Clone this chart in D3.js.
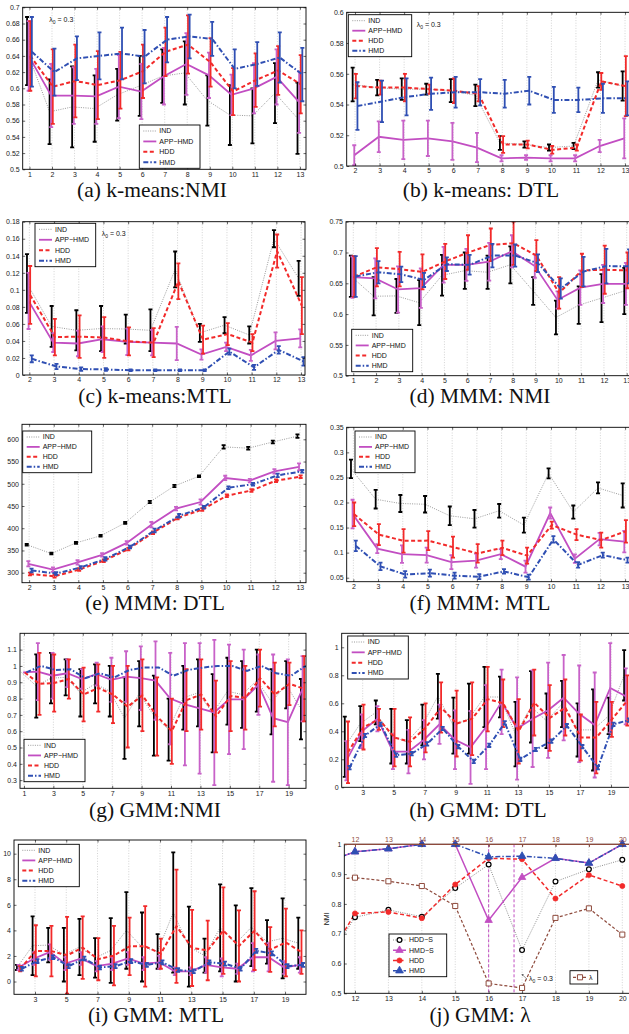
<!DOCTYPE html>
<html lang="en">
<head>
<meta charset="UTF-8">
<title>Clustering comparison</title>
<style>
  body { margin: 0; background: #fff; }
  svg { display: block; }
  .tick text { font-family: "Liberation Sans", Arial, sans-serif; font-size: 7px; fill: #222; }
  .cap { font-family: "Liberation Serif", "Times New Roman", serif; font-size: 21.5px; fill: #111; }
  .leg { font-family: "Liberation Sans", Arial, sans-serif; font-size: 7px; fill: #111; }
</style>
<script src="https://d3js.org/d3.v7.min.js"></script>
</head>
<body>
<div id="chart"></div>
<script>
// x categories
const x1to13 = [1, 2, 3, 4, 5, 6, 7, 8, 9, 10, 11, 12, 13];
const x2to13 = [2, 3, 4, 5, 6, 7, 8, 9, 10, 11, 12, 13];
const x1to20 = [1, 2, 3, 4, 5, 6, 7, 8, 9, 10, 11, 12, 13, 14, 15, 16, 17, 18, 19, 20];
const x2to20 = [2, 3, 4, 5, 6, 7, 8, 9, 10, 11, 12, 13, 14, 15, 16, 17, 18, 19, 20];
const x11to20 = [11, 12, 13, 14, 15, 16, 17, 18, 19, 20];
const oddTicks = [1, 3, 5, 7, 9, 11, 13, 15, 17, 19];
const oddTicks3 = [3, 5, 7, 9, 11, 13, 15, 17, 19];
const lamTicks = [12, 13, 14, 15, 16, 17, 18, 19, 20];

// (a) k-means: NMI
const aIND = [0.646, 0.571, 0.577, 0.575, 0.592, 0.603, 0.615, 0.619, 0.585, 0.567, 0.566, 0.594, 0.563];
const aINDe = [0.042, 0.040, 0.050, 0.041, 0.032, 0.037, 0.033, 0.039, 0.031, 0.037, 0.034, 0.037, 0.044];
const aAPP = [0.640, 0.591, 0.591, 0.590, 0.602, 0.596, 0.615, 0.630, 0.616, 0.592, 0.600, 0.614, 0.583];
const aAPPe = [0.043, 0.039, 0.035, 0.034, 0.039, 0.034, 0.035, 0.038, 0.028, 0.025, 0.031, 0.034, 0.038];
const aHDD = [0.640, 0.602, 0.609, 0.604, 0.610, 0.621, 0.645, 0.654, 0.632, 0.596, 0.610, 0.622, 0.605];
const aHDDe = [0.043, 0.046, 0.045, 0.042, 0.035, 0.033, 0.030, 0.036, 0.030, 0.029, 0.033, 0.030, 0.036];
const aHMD = [0.645, 0.620, 0.637, 0.640, 0.643, 0.639, 0.660, 0.664, 0.661, 0.624, 0.630, 0.638, 0.617];
const aHMDe = [0.043, 0.029, 0.027, 0.029, 0.032, 0.033, 0.028, 0.027, 0.021, 0.024, 0.027, 0.031, 0.033];

// (b) k-means: DTL
const bIND = [0.553, 0.551, 0.550, 0.550, 0.549, 0.546, 0.515, 0.514, 0.512, 0.513, 0.556, 0.552];
const bINDe = [0.011, 0.005, 0.007, 0.0035, 0.0075, 0.007, 0.0045, 0.002, 0.002, 0.002, 0.005, 0.0095];
const bAPP = [0.507, 0.519, 0.517, 0.518, 0.516, 0.512, 0.505, 0.5055, 0.505, 0.505, 0.513, 0.518];
const bAPPe = [0.0065, 0.010, 0.0125, 0.0115, 0.012, 0.0095, 0.002, 0.0015, 0.002, 0.002, 0.004, 0.013];
const bHDD = [0.552, 0.551, 0.551, 0.550, 0.549, 0.547, 0.514, 0.514, 0.5105, 0.512, 0.555, 0.552];
const bHDDe = [0.008, 0.0045, 0.009, 0.003, 0.008, 0.005, 0.0055, 0.0025, 0.0025, 0.002, 0.0055, 0.0195];
const bHMD = [0.539, 0.542, 0.545, 0.547, 0.548, 0.548, 0.547, 0.549, 0.543, 0.543, 0.544, 0.544];
const bHMDe = [0.0155, 0.0135, 0.012, 0.0105, 0.010, 0.0085, 0.009, 0.009, 0.0085, 0.008, 0.0095, 0.011];

// (c) k-means: MTL
const cIND = [0.1075, 0.057, 0.0525, 0.0545, 0.054, 0.0525, 0.124, 0.0495, 0.0585, 0.047, 0.160, 0.1135];
const cINDe = [0.0345, 0.024, 0.0235, 0.0265, 0.017, 0.0245, 0.021, 0.0105, 0.0095, 0.010, 0.010, 0.0205];
const cAPP = [0.087, 0.038, 0.037, 0.042, 0.039, 0.038, 0.037, 0.024, 0.033, 0.023, 0.040, 0.043];
const cAPPe = [0.033, 0.011, 0.015, 0.015, 0.0155, 0.015, 0.0195, 0.006, 0.005, 0.0065, 0.010, 0.0105];
const cHDD = [0.094, 0.0445, 0.045, 0.044, 0.0395, 0.038, 0.110, 0.0415, 0.048, 0.038, 0.1455, 0.0815];
const cHDDe = [0.034, 0.0215, 0.025, 0.024, 0.0165, 0.017, 0.021, 0.0165, 0.013, 0.010, 0.0195, 0.0335];
const cHMD = [0.019, 0.010, 0.007, 0.0065, 0.0055, 0.0055, 0.0055, 0.0055, 0.0275, 0.009, 0.0295, 0.016];
const cHMDe = [0.004, 0.003, 0.002, 0.0015, 0.001, 0.001, 0.001, 0.001, 0.0035, 0.003, 0.0045, 0.005];

// (d) MMM: NMI
const dIND = [0.6615, 0.629, 0.6295, 0.6185, 0.663, 0.6705, 0.668, 0.680, 0.6375, 0.5945, 0.6145, 0.626, 0.6375];
const dINDe = [0.0335, 0.031, 0.0275, 0.0365, 0.033, 0.0295, 0.027, 0.030, 0.0225, 0.0275, 0.0305, 0.039, 0.0375];
const dAPP = [0.660, 0.658, 0.640, 0.642, 0.680, 0.680, 0.685, 0.702, 0.678, 0.623, 0.643, 0.649, 0.649];
const dAPPe = [0.0335, 0.0325, 0.0375, 0.032, 0.029, 0.026, 0.0305, 0.026, 0.019, 0.014, 0.028, 0.031, 0.034];
const dHDD = [0.661, 0.676, 0.673, 0.6685, 0.6855, 0.700, 0.7125, 0.715, 0.695, 0.6345, 0.671, 0.672, 0.671];
const dHDDe = [0.033, 0.031, 0.028, 0.0285, 0.0285, 0.028, 0.0265, 0.035, 0.025, 0.0255, 0.027, 0.039, 0.029];
const dHMD = [0.661, 0.668, 0.6645, 0.6555, 0.681, 0.680, 0.695, 0.695, 0.6825, 0.6415, 0.669, 0.678, 0.6775];
const dHMDe = [0.033, 0.018, 0.0125, 0.0115, 0.011, 0.016, 0.019, 0.018, 0.0145, 0.0165, 0.024, 0.028, 0.0275];

// (e) MMM: DTL
const eIND = [363, 343, 367, 383, 412, 459, 495, 517, 583, 580, 594, 607];
const eINDe = [2, 2, 2, 2, 2, 2.5, 2.5, 2, 4, 3, 3, 4];
const eAPP = [320, 307, 323, 340, 367, 408, 444, 459, 513, 507, 528, 538];
const eAPPe = [6, 5, 5, 4, 4, 6, 4, 6, 5, 4, 5, 8];
const eHDD = [297, 292, 307, 327, 353, 390, 423, 442, 473, 485, 507, 516];
const eHDDe = [3, 3, 3, 3, 3, 3, 3, 3, 3, 3, 3, 3];
const eHMD = [305, 298, 312, 331, 358, 395, 428, 447, 491, 499, 519, 528];
const eHMDe = [4, 3, 3, 4, 3, 4, 4, 3, 3, 3, 4, 3];

// (f) MMM: MTL
const fIND = [0.267, 0.2065, 0.198, 0.1965, 0.1735, 0.1675, 0.1835, 0.155, 0.258, 0.181, 0.229, 0.214];
const fINDe = [0.0185, 0.0185, 0.017, 0.0165, 0.0185, 0.0175, 0.0135, 0.015, 0.010, 0.013, 0.011, 0.024];
const fAPP = [0.177, 0.108, 0.097, 0.095, 0.081, 0.084, 0.097, 0.072, 0.179, 0.088, 0.127, 0.122];
const fAPPe = [0.0285, 0.009, 0.0175, 0.015, 0.014, 0.014, 0.010, 0.012, 0.011, 0.0085, 0.0125, 0.0215];
const fHDD = [0.1765, 0.136, 0.1235, 0.124, 0.111, 0.0985, 0.1095, 0.094, 0.155, 0.136, 0.125, 0.1425];
const fHDDe = [0.0235, 0.021, 0.0235, 0.019, 0.021, 0.0185, 0.0145, 0.016, 0.007, 0.011, 0.015, 0.0225];
const fHMD = [0.1135, 0.0725, 0.0565, 0.059, 0.054, 0.052, 0.0625, 0.051, 0.1265, 0.0755, 0.095, 0.085];
const fHMDe = [0.0105, 0.0075, 0.0065, 0.007, 0.006, 0.005, 0.0045, 0.005, 0.0065, 0.0055, 0.005, 0.005];

// (g) GMM: NMI
const gIND = [0.96, 0.877, 0.925, 0.93, 0.835, 0.89, 0.845, 0.68, 0.83, 0.695, 0.61, 0.805, 0.835, 0.71, 0.845, 0.825, 0.91, 0.78, 0.885, 0.735];
const gINDe = [0, 0.194, 0.155, 0.11, 0.145, 0.12, 0.155, 0.25, 0.2, 0.245, 0.19, 0.195, 0.205, 0.24, 0.205, 0.205, 0.19, 0.2, 0.145, 0.185];
const gAPP = [0.96, 0.965, 0.94, 0.955, 0.92, 0.95, 0.915, 0.935, 0.925, 0.91, 0.80, 0.765, 0.74, 0.715, 0.795, 0.795, 0.885, 0.68, 0.655, 0.86];
const gAPPe = [0, 0.175, 0.14, 0.085, 0.06, 0.07, 0.135, 0.155, 0.195, 0.24, 0.28, 0.375, 0.40, 0.445, 0.335, 0.305, 0.185, 0.39, 0.385, 0.2];
const gHDD = [0.96, 0.89, 0.895, 0.92, 0.825, 0.865, 0.825, 0.75, 0.82, 0.69, 0.60, 0.79, 0.825, 0.69, 0.815, 0.805, 0.925, 0.825, 0.89, 0.86];
const gHDDe = [0, 0.19, 0.175, 0.12, 0.165, 0.145, 0.175, 0.25, 0.22, 0.24, 0.20, 0.19, 0.215, 0.22, 0.215, 0.195, 0.175, 0.195, 0.13, 0.2];
const gHMD = [0.96, 1.0, 0.975, 0.98, 0.925, 0.955, 0.93, 0.975, 0.99, 0.99, 0.94, 0.975, 0.99, 1.0, 1.0, 0.97, 1.0, 0.955, 0.94, 1.0];
const gHMDe = [0, 0, 0, 0, 0, 0, 0, 0, 0, 0, 0, 0, 0, 0, 0, 0, 0, 0, 0, 0];

// (h) GMM: DTL
const hIND = [0.29, 0.455, 0.535, 0.365, 0.325, 0.445, 0.65, 0.44, 0.49, 0.645, 0.645, 0.38, 0.575, 0.475, 0.595, 0.41, 0.41, 0.51, 0.8];
const hINDe = [0.215, 0.125, 0.085, 0.195, 0.155, 0.145, 0.16, 0.2, 0.25, 0.215, 0.145, 0.23, 0.255, 0.195, 0.165, 0.19, 0.29, 0.13, 0.18];
const hAPP = [0.19, 0.40, 0.49, 0.255, 0.255, 0.34, 0.45, 0.34, 0.285, 0.43, 0.61, 0.42, 0.49, 0.55, 0.64, 0.525, 0.445, 0.71, 0.65];
const hAPPe = [0.14, 0.12, 0.09, 0.125, 0.155, 0.14, 0.14, 0.21, 0.26, 0.30, 0.23, 0.365, 0.345, 0.34, 0.305, 0.345, 0.375, 0.32, 0.2];
const hHDD = [0.25, 0.43, 0.485, 0.355, 0.325, 0.425, 0.57, 0.455, 0.49, 0.63, 0.60, 0.40, 0.605, 0.495, 0.57, 0.355, 0.355, 0.485, 0.62];
const hHDDe = [0.22, 0.16, 0.075, 0.205, 0.175, 0.175, 0.18, 0.235, 0.26, 0.23, 0.17, 0.23, 0.235, 0.235, 0.2, 0.165, 0.255, 0.125, 0.18];
const hHMD = [0.14, 0.37, 0.45, 0.23, 0.24, 0.31, 0.42, 0.29, 0.185, 0.30, 0.46, 0.20, 0.27, 0.33, 0.44, 0.29, 0.14, 0.45, 0.48];
const hHMDe = [0.012, 0.012, 0.012, 0.012, 0.012, 0.012, 0.012, 0.012, 0.012, 0.012, 0.012, 0.012, 0.012, 0.012, 0.012, 0.012, 0.012, 0.012, 0.012];

// (i) GMM: MTL
const iIND = [1.1, 2.8, 2.85, 2.1, 2.7, 1.85, 2.43, 4.0, 2.7, 2.35, 5.4, 2.73, 2.03, 4.2, 2.98, 4.25, 3.1, 3.38, 3.0];
const iINDe = [0.2, 2.3, 1.35, 2.1, 2.2, 1.55, 2.53, 3.0, 2.7, 1.35, 4.7, 3.13, 1.33, 3.4, 2.98, 3.05, 1.7, 3.13, 2.0];
const iAPP = [1.1, 1.8, 2.3, 1.4, 1.8, 1.2, 1.4, 1.8, 1.4, 1.5, 0.8, 0.8, 1.3, 1.1, 1.0, 1.9, 1.9, 1.1, 1.3];
const iAPPe = [0.2, 0.5, 0.6, 0.5, 0.5, 0.4, 0.5, 0.5, 0.5, 0.5, 0.3, 0.3, 0.6, 0.7, 0.4, 1.1, 1.1, 0.5, 0.6];
const iHDD = [1.0, 2.4, 2.375, 2.05, 2.65, 1.75, 2.03, 2.75, 2.75, 2.18, 4.33, 2.63, 2.43, 3.98, 2.78, 3.98, 2.5, 3.05, 2.3];
const iHDDe = [0.2, 2.0, 1.975, 3.0, 2.45, 1.65, 2.33, 2.25, 3.15, 1.18, 4.43, 2.98, 2.33, 3.38, 2.78, 3.08, 1.75, 2.65, 1.7];
const iHMD = [1.0, 1.6, 1.9, 1.2, 1.8, 1.1, 1.2, 1.6, 1.3, 1.5, 0.9, 0.8, 1.5, 1.4, 1.0, 2.4, 2.2, 1.2, 1.3];
const iHMDe = [0.15, 0.15, 0.15, 0.15, 0.15, 0.15, 0.15, 0.15, 0.15, 0.15, 0.15, 0.15, 0.15, 0.15, 0.15, 0.15, 0.15, 0.15, 0.15];

// (j) GMM: lambda (x = 11 lies just left of the visible range)
const jHDDS = [0.58, 0.755, 0.780, 0.757, 0.853, 0.932, 0.645, 0.875, 0.916, 0.948];
const jHMDS = [0.935, 0.975, 0.985, 1.0, 1.0, 0.745, 0.889, 0.953, 0.937, 1.0];
const jHDD = [0.58, 0.768, 0.773, 0.752, 0.865, 0.953, 0.950, 0.818, 0.897, 0.860];
const jHMD = [0.935, 0.975, 0.985, 1.0, 1.0, 0.958, 0.960, 0.953, 0.937, 1.0];
const jLAM = [0.88, 0.888, 0.876, 0.860, 0.793, 0.533, 0.518, 0.753, 0.785, 0.697];
const jMarks = [16, 16.76];

const W = 629, H = 1034;
const BROWN = '#8e4a3c';
const ST = {
  IND: { line: '#9a9a9a', bar: '#000', w: 1, bw: 1.8, dash: '1,1.3', dx: -2.4 },
  APP: { line: '#c24ec2', bar: '#c862c8', w: 1.8, bw: 1.8, dash: null, dx: -0.8 },
  HDD: { line: '#f22a2a', bar: '#f22a2a', w: 2, bw: 1.8, dash: '4,2.5', dx: 0.8 },
  HMD: { line: '#2f4fb3', bar: '#2f4fb3', w: 2, bw: 1.8, dash: '5,2,1.5,2', dx: 2.4 }
};
const LEG = [['IND', 'IND'], ['APP\u2212HMD', 'APP'], ['HDD', 'HDD'], ['HMD', 'HMD']];

function tk(a, b, s) {
  const n = Math.round((b - a) / s);
  return Array.from({ length: n + 1 }, (_, i) => +(a + i * s).toFixed(4));
}

const svg = d3.select('#chart').append('svg').attr('width', W).attr('height', H);
svg.append('rect').attr('width', W).attr('height', H).attr('fill', '#fff');

let clipN = 0;
function frame(p) {
  const [l, t, r, b] = p.box;
  const x = d3.scaleLinear().domain(p.xd).range([l, r]);
  const y = d3.scaleLinear().domain(p.yd).range([b, t]);
  const g = svg.append('g');
  const id = 'clip' + (clipN++);
  g.append('clipPath').attr('id', id).append('rect')
    .attr('x', l).attr('y', t).attr('width', r - l).attr('height', b - t);
  // dotted vertical grid
  g.append('g').selectAll('line').data(p.xt).join('line')
    .attr('x1', d => x(d)).attr('x2', d => x(d)).attr('y1', t).attr('y2', b)
    .attr('stroke', '#b5b5b5').attr('stroke-width', 0.6).attr('stroke-dasharray', '1,1.6');
  const plot = g.append('g').attr('clip-path', `url(#${id})`);
  return { g, x, y, plot, l, t, r, b };
}

function axes(f, p) {
  const { g, x, y, l, t, r, b } = f;
  const fmt = d => String(+d.toFixed(3));
  const ax = (sel) => sel.call(s => s.select('.domain').remove())
    .call(s => s.selectAll('.tick line').attr('stroke', '#000').attr('stroke-width', 0.6));
  g.append('g').attr('transform', `translate(0,${b})`)
    .call(d3.axisBottom(x).tickValues(p.xt).tickSize(-2.5).tickSizeOuter(0).tickPadding(2.5).tickFormat(d3.format('d')))
    .call(ax);
  g.append('g').attr('transform', `translate(0,${t})`)
    .call(d3.axisTop(x).tickValues(p.xt).tickSize(-2.5).tickSizeOuter(0).tickFormat(''))
    .call(ax);
  g.append('g').attr('transform', `translate(${l},0)`)
    .call(d3.axisLeft(y).tickValues(p.yt).tickSize(-2.5).tickSizeOuter(0).tickPadding(3).tickFormat(fmt))
    .call(ax);
  g.append('g').attr('transform', `translate(${r},0)`)
    .call(d3.axisRight(y).tickValues(p.yt).tickSize(-2.5).tickSizeOuter(0).tickFormat(''))
    .call(ax);
  g.append('rect').attr('x', l).attr('y', t).attr('width', r - l).attr('height', b - t)
    .attr('fill', 'none').attr('stroke', '#000').attr('stroke-width', 0.9);
}

function series(f, xs, m, e, s) {
  const pts = xs.map((v, i) => ({ x: f.x(v) + s.dx, v: m[i], e: e[i] }));
  f.plot.append('path').datum(pts)
    .attr('d', d3.line().x(d => d.x).y(d => f.y(d.v)))
    .attr('fill', 'none').attr('stroke', s.line).attr('stroke-width', s.w)
    .attr('stroke-dasharray', s.dash);
  f.plot.append('g').selectAll('path').data(pts.filter(d => d.e > 0)).join('path')
    .attr('d', d => {
      const y0 = f.y(d.v - d.e), y1 = f.y(d.v + d.e);
      return `M${d.x},${y0}V${y1}M${d.x - 2},${y0}H${d.x + 2}M${d.x - 2},${y1}H${d.x + 2}`;
    })
    .attr('fill', 'none').attr('stroke', s.bar).attr('stroke-width', s.bw);
}

function legend(box, rows, drawSample) {
  const [l, t, r, b] = box;
  const g = svg.append('g');
  g.append('rect').attr('x', l).attr('y', t).attr('width', r - l).attr('height', b - t)
    .attr('fill', '#fff').attr('stroke', '#000').attr('stroke-width', 0.9);
  const step = (b - t - 12) / (rows.length - 1);
  rows.forEach((row, i) => {
    const yy = t + 6 + i * step;
    drawSample(g, row[1], l + 4, l + 17, yy);
    g.append('text').attr('class', 'leg').attr('x', l + 20).attr('y', yy).attr('dy', '0.35em').text(row[0]);
  });
}

function lineSample(g, key, x0, x1, yy) {
  const s = ST[key];
  g.append('line').attr('x1', x0).attr('x2', x1).attr('y1', yy).attr('y2', yy)
    .attr('stroke', s.line).attr('stroke-width', s.w).attr('stroke-dasharray', s.dash);
}

function lambdaNote(x, y) {
  const t = svg.append('text').attr('class', 'leg').attr('x', x).attr('y', y);
  t.append('tspan').text('\u03bb');
  t.append('tspan').attr('dy', 2).attr('font-size', 5).text('0');
  t.append('tspan').attr('dy', -2).text(' = 0.3');
}

function caption(txt, x, y) {
  svg.append('text').attr('class', 'cap').attr('x', x).attr('y', y)
    .attr('text-anchor', 'middle').text(txt);
}

const panels = [
  { box: [22.7, 7.3, 306, 169.3], xd: [0.7, 13.27], yd: [0.5, 0.7], xt: x1to13, yt: tk(0.5, 0.7, 0.02), xs: x1to13,
    d: [aIND, aINDe, aAPP, aAPPe, aHDD, aHDDe, aHMD, aHMDe], leg: [139.3, 125, 200, 168.3], lam: [49.3, 21.5],
    cap: ['(a) k-means:NMI', 152, 197] },
  { box: [346.7, 12.3, 634, 166], xd: [1.66, 13.365], yd: [0.5, 0.6], xt: x2to13, yt: tk(0.5, 0.6, 0.02), xs: x2to13,
    d: [bIND, bINDe, bAPP, bAPPe, bHDD, bHDDe, bHMD, bHMDe], leg: [348.3, 14.7, 411.7, 56.7], lam: [416.7, 27],
    cap: ['(b) k-means: DTL', 481, 197] },
  { box: [22.7, 221.7, 305, 375], xd: [1.73, 13.16], yd: [0, 0.18], xt: x2to13, yt: tk(0, 0.18, 0.02), xs: x2to13,
    d: [cIND, cINDe, cAPP, cAPPe, cHDD, cHDDe, cHMD, cHMDe], leg: [35, 223.3, 95.7, 266.7], lam: [101.7, 235.5],
    cap: ['(c) k-means:MTL', 155, 403] },
  { box: [346, 221.7, 634, 375.7], xd: [0.68, 13.32], yd: [0.5, 0.75], xt: x1to13, yt: tk(0.5, 0.75, 0.05), xs: x1to13,
    d: [dIND, dINDe, dAPP, dAPPe, dHDD, dHDDe, dHMD, dHMDe], leg: [351.7, 329.3, 412.7, 371.7],
    cap: ['(d) MMM: NMI', 480, 403] },
  { box: [22, 424.3, 306, 582.7], xd: [1.71, 13.25], yd: [277.5, 633.75], xt: x2to13, yt: tk(300, 600, 50), xs: x2to13,
    d: [eIND, eINDe, eAPP, eAPPe, eHDD, eHDDe, eHMD, eHMDe], leg: [22.7, 431, 91.7, 472.7],
    cap: ['(e) MMM: DTL', 155, 610] },
  { box: [346.7, 427.3, 634, 581.7], xd: [1.73, 13.36], yd: [0.042, 0.35], xt: x2to13, yt: tk(0.05, 0.35, 0.05), xs: x2to13,
    d: [fIND, fINDe, fAPP, fAPPe, fHDD, fHDDe, fHMD, fHMDe], leg: [355, 431, 415, 472.7],
    cap: ['(f) MMM: MTL', 480, 610] },
  { box: [20, 633.3, 306, 788.3], xd: [0.73, 20.18], yd: [0.25, 1.2], xt: oddTicks, yt: tk(0.3, 1.1, 0.1), xs: x1to20,
    d: [gIND, gINDe, gAPP, gAPPe, gHDD, gHDDe, gHMD, gHMDe], leg: [24, 739.3, 85, 781.7],
    cap: ['(g) GMM:NMI', 155, 817] },
  { box: [341.7, 633.3, 634, 787.3], xd: [1.647, 20.48], yd: [0, 1.1], xt: oddTicks3, yt: tk(0, 1, 0.2), xs: x2to20,
    d: [hIND, hINDe, hAPP, hAPPe, hHDD, hHDDe, hHMD, hHMDe], leg: [347.7, 636, 408.3, 679],
    cap: ['(h) GMM: DTL', 478, 817] },
  { box: [14, 840, 306, 994.3], xd: [1.656, 20.34], yd: [-1, 11.07], xt: oddTicks3, yt: tk(0, 10, 2), xs: x2to20,
    d: [iIND, iINDe, iAPP, iAPPe, iHDD, iHDDe, iHMD, iHMDe], leg: [18.3, 844.3, 79.3, 886.7],
    cap: ['(i) GMM: MTL', 156, 1022] }
];

panels.forEach(p => {
  const f = frame(p);
  ['IND', 'APP', 'HDD', 'HMD'].forEach((k, i) => series(f, p.xs, p.d[2 * i], p.d[2 * i + 1], ST[k]));
  axes(f, p);
  legend(p.leg, LEG, lineSample);
  if (p.lam) lambdaNote(p.lam[0], p.lam[1]);
  caption(p.cap[0], p.cap[1], p.cap[2]);
});

// (j) GMM: lambda
const jp = { box: [344.3, 844.3, 634, 993.3], xd: [11.68, 20.35], yd: [0.5, 1.0], xt: lamTicks, yt: tk(0.5, 1, 0.1) };
const jf = frame(jp);
const JS = {
  LAM: { line: BROWN, w: 1.2, dash: '3,2', sym: d3.symbolSquare, size: 26, fill: '#fff', stroke: BROWN, sw: 1 },
  HDDS: { line: '#8c8c8c', w: 1, dash: '1,1.3', sym: d3.symbolCircle, size: 18, fill: '#fff', stroke: '#000', sw: 1.2 },
  HMDS: { line: '#c24ec2', w: 1.5, dash: null, sym: d3.symbolTriangle, size: 24, fill: '#c24ec2', stroke: '#c24ec2', sw: 0.8 },
  HDD: { line: '#f22a2a', w: 1.5, dash: '4,2.5', sym: d3.symbolCircle, size: 20, fill: '#f22a2a', stroke: '#f22a2a', sw: 0.8 },
  HMD: { line: '#2f4fb3', w: 1.5, dash: '5,2,1.5,2', sym: d3.symbolTriangle, size: 26, fill: '#2f4fb3', stroke: '#2f4fb3', sw: 0.8 }
};
// threshold markers
jf.plot.append('g').selectAll('line').data(jMarks).join('line')
  .attr('x1', d => jf.x(d)).attr('x2', d => jf.x(d)).attr('y1', jf.t).attr('y2', jf.b)
  .attr('stroke', '#c24ec2').attr('stroke-width', 1).attr('stroke-dasharray', '3,2');
const jSeries = [['LAM', jLAM], ['HDDS', jHDDS], ['HMDS', jHMDS], ['HDD', jHDD], ['HMD', jHMD]];
jSeries.forEach(([k, vals]) => {
  const s = JS[k];
  jf.plot.append('path').datum(x11to20.map((v, i) => [jf.x(v), jf.y(vals[i])]))
    .attr('d', d3.line()).attr('fill', 'none').attr('stroke', s.line)
    .attr('stroke-width', s.w).attr('stroke-dasharray', s.dash);
});
jSeries.forEach(([k, vals]) => {
  const s = JS[k];
  jf.g.append('g').selectAll('path').data(x11to20.map((v, i) => [v, vals[i]]).filter(d => d[0] >= jp.xd[0]))
    .join('path')
    .attr('transform', d => `translate(${jf.x(d[0])},${jf.y(d[1])})`)
    .attr('d', d3.symbol(s.sym, s.size))
    .attr('fill', s.fill).attr('stroke', s.stroke).attr('stroke-width', s.sw);
});
axes(jf, jp);
// brown top axis of the lambda overlay
const topAx = jf.g.append('g').attr('transform', `translate(0,${jf.t})`)
  .call(d3.axisTop(jf.x).tickValues(lamTicks).tickSize(-2.5).tickSizeOuter(0).tickPadding(2).tickFormat(d3.format('d')));
topAx.select('.domain').remove();
topAx.selectAll('.tick line').attr('stroke', BROWN);
topAx.selectAll('.tick text').style('fill', BROWN);
jf.g.append('line').attr('x1', jf.l).attr('x2', jf.r).attr('y1', jf.t).attr('y2', jf.t)
  .attr('stroke', BROWN).attr('stroke-width', 1.2);
// y label
svg.append('text').attr('class', 'leg').attr('font-size', 6.5)
  .attr('transform', `translate(329,${(jf.t + jf.b) / 2}) rotate(-90)`)
  .attr('text-anchor', 'middle').text('NMI');

function markSample(g, key, x0, x1, yy) {
  const s = JS[key];
  g.append('line').attr('x1', x0).attr('x2', x1).attr('y1', yy).attr('y2', yy)
    .attr('stroke', s.line).attr('stroke-width', s.w).attr('stroke-dasharray', s.dash);
  g.append('path').attr('transform', `translate(${(x0 + x1) / 2},${yy})`)
    .attr('d', d3.symbol(s.sym, s.size)).attr('fill', s.fill).attr('stroke', s.stroke).attr('stroke-width', s.sw);
}
legend([389, 934, 446.7, 976.7],
  [['HDD\u2212S', 'HDDS'], ['HMD\u2212S', 'HMDS'], ['HDD', 'HDD'], ['HMD', 'HMD']], markSample);
// lambda legend
const lg = svg.append('g');
lg.append('rect').attr('x', 570).attr('y', 970.7).attr('width', 27.7).attr('height', 13.3)
  .attr('fill', '#fff').attr('stroke', '#000').attr('stroke-width', 0.9);
markSample(lg, 'LAM', 573, 587, 977.3);
lg.append('text').attr('class', 'leg').attr('x', 589).attr('y', 977.3).attr('dy', '0.35em').text('\u03bb');
// lambda_0 annotation with small arrow
svg.append('line').attr('x1', 527).attr('y1', 979).attr('x2', 522).attr('y2', 974.5)
  .attr('stroke', '#555').attr('stroke-width', 0.6);
svg.append('path').attr('d', 'M521.5,974 l2.6,0.4 l-1.9,1.7 z').attr('fill', '#555');
lambdaNote(529, 980.5);
caption('(j) GMM: \u03bb', 480, 1022);
</script>
</body>
</html>
